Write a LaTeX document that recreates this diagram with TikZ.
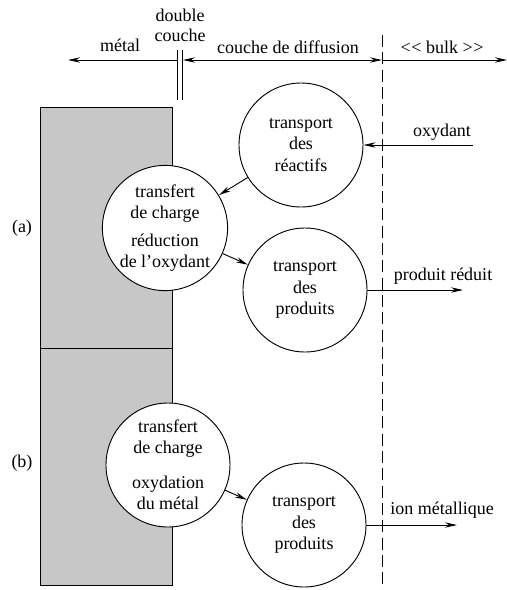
\documentclass[tikz,border=0pt]{standalone}
\usepackage{fontspec}
\setmainfont{Liberation Serif}
\usetikzlibrary{arrows.meta}

\begin{document}
\begin{tikzpicture}[>={Stealth[length=9pt, width=4pt]}, x=0.75pt, y=-0.75pt, line width=0.7pt,
	every node/.style={font=\fontsize{13.5}{16}\selectfont},
	etape/.style={draw, circle, fill=white, minimum size=93pt, inner sep=0pt, align=center}]
	\useasboundingbox (0,0) rectangle (507,590);
	% metal
	\fill[black!22] (40,107) rectangle (172,585);
	\draw (40,107) rectangle (172,585);
	\draw (40,348) -- (172,348);
	\node (a) at (22,228) {(a)};
	\node (b) at (22,463) {(b)};
	% zones
	\draw (177,50) -- (177,100);
	\draw (182,50) -- (182,100);
	\draw[dashed, dash pattern=on 9pt off 4pt] (382,35) -- (382,590);
	\coordinate (dc1) at (177,60);
	\coordinate (dc2) at (183,60);
	\coordinate (lim) at (382,60);
	\coordinate (gauche) at (68,60);
	\coordinate (droite) at (507,60);
	\draw[->] (dc1) -- (gauche);
	\draw[<->] (dc2) -- (lim);
	\draw[->] (lim) -- (droite);
	\node (metal) at (120,45) {métal};
	\node[align=center, font=\fontsize{13.5}{15}\selectfont] (double) at (180,25) {double\\couche};
	\node (diffusion) at (288,47) {couche de diffusion};
	\node (bulk) at (442,47) {<\kern0.5pt< bulk >\kern0.5pt>};
	% (a)
	\node[etape] (reactifs) at (301,145) {transport\\des\\réactifs};
	\node[etape] (reduction) at (165,228) {transfert\\de charge\\[5pt]réduction\\de l'oxydant};
	\node[etape] (produitsA) at (305,290) {transport\\des\\produits};
	\coordinate (oxy) at (473,145);
	\coordinate (sortieA) at (463,290);
	\draw[->] (oxy) -- (reactifs);
	\draw[->] (reactifs) -- (reduction);
	\draw[->] (reduction) -- (produitsA);
	\draw[->] (produitsA) -- (sortieA);
	\node (oxydant) at (442,132) {oxydant};
	\node (reduit) at (443,276) {produit réduit};
	% (b)
	\node[etape] (oxydation) at (168,465) {transfert\\de charge\\[10pt]oxydation\\du métal};
	\node[etape] (produitsB) at (304,525) {transport\\des\\produits};
	\coordinate (sortieB) at (457,525);
	\draw[->] (oxydation) -- (produitsB);
	\draw[->] (produitsB) -- (sortieB);
	\node (ion) at (442,510) {ion métallique};
\end{tikzpicture}
\end{document}
